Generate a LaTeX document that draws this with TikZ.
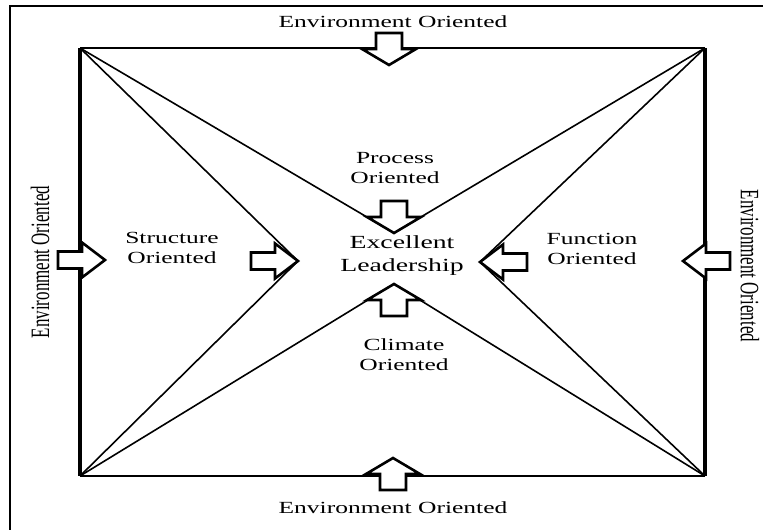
\documentclass[tikz,border=0pt]{standalone}
\usepackage{fontspec}
\setmainfont{Liberation Serif}
\newfontfamily\widefont[FakeStretch=1.5]{Liberation Serif}
\newfontfamily\tallfont[FakeStretch=0.64]{Liberation Serif}
\usetikzlibrary{calc}
\tikzset{
  frameline/.style={line width=1.6pt},
  innerline/.style={line width=1.8pt},
  sideline/.style={line width=3.2pt},
  diag/.style={line width=1.6pt},
  arrowline/.style={draw, fill=white, line width=2.6pt, line join=miter},
  txt/.style={align=center, inner sep=0pt, font=\widefont\fontsize{17}{20}\selectfont},
  vtxt/.style={inner sep=0pt, font=\tallfont\fontsize{26.5}{28}\selectfont},
  harrow/.pic={
    \draw[arrowline] (0,0) -- (-23,-17.5) -- (-23,-8.5) -- (-47,-8.5)
      -- (-47,8.5) -- (-23,8.5) -- (-23,17.5) -- cycle;
  },
  varrow/.pic={
    \draw[arrowline] (0,0) -- (-27,-16) -- (-13,-16) -- (-13,-32)
      -- (13,-32) -- (13,-16) -- (27,-16) -- cycle;
  }
}
\begin{document}
\begin{tikzpicture}[x=1pt,y=-1pt]
\useasboundingbox (0,0) rectangle (763,530);

% outer frame, cut by the page
\draw[frameline] (10,530) -- (10,6) -- (763,6);

% corners and the inner meeting points
\coordinate (tl) at (80,48);
\coordinate (tr) at (705,48);
\coordinate (bl) at (80,476);
\coordinate (br) at (705,476);
\coordinate (top) at (394,233);
\coordinate (left) at (298,261);
\coordinate (right) at (480,262);
\coordinate (bot) at (394,284);

\draw[innerline] (tl) -- (tr);
\draw[innerline] (bl) -- (br);
\draw[sideline] (tl) -- (bl);
\draw[sideline] (tr) -- (br);

\foreach \c/\v in {tl/top, tl/left, tr/top, tr/right, bl/left, bl/bot, br/right, br/bot}{
  \draw[diag] (\c) -- (\v);
}

% block arrows
\pic at (389,65) {varrow};
\pic at (top) {varrow};
\pic[rotate=180] at (bot) {varrow};
\pic[rotate=180] at (393,458) {varrow};
\pic at (105,260) {harrow};
\pic at (left) {harrow};
\pic[rotate=180] at (right) {harrow};
\pic[rotate=180] at (683,261) {harrow};

% texts
\node[txt] (envtop) at (393,22) {Environment Oriented};
\node[txt] (envbot) at (393,508) {Environment Oriented};
\node[vtxt, rotate=90] (envleft) at (40,262) {Environment Oriented};
\node[vtxt, rotate=-90] (envright) at (750,266) {Environment Oriented};
\node[txt] (process) at (395,168) {Process\\Oriented};
\node[txt, font=\widefont\fontsize{18.5}{23}\selectfont] (lead) at (402,256) {Excellent\\Leadership};
\node[txt] (climate) at (404,355) {Climate\\Oriented};
\node[txt] (structure) at (172,248) {Structure\\Oriented};
\node[txt] (function) at (592,249) {Function\\Oriented};
\end{tikzpicture}
\end{document}
